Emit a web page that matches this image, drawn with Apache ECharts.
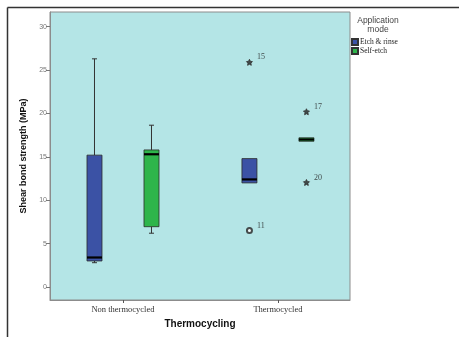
<!DOCTYPE html>
<html><head><meta charset="utf-8">
<script src="https://cdn.jsdelivr.net/npm/echarts@6/dist/echarts.min.js"></script>
<style>html,body{margin:0;padding:0;background:#fff}#c{width:459px;height:337px}</style>
</head><body><div id="c"></div>
<script>
const categories = ['Non thermocycled', 'Thermocycled'];
const groupNames = ['Etch & rinse', 'Self-etch'];
// [lower whisker, Q1, median, Q3, upper whisker] per category
const etchRinseBox = [[2.8, 3.0, 3.4, 15.2, 26.3], [12.0, 12.0, 12.4, 14.8, 14.8]];
const selfEtchBox = [[6.2, 6.95, 15.3, 15.8, 18.65], [16.8, 16.8, 17.0, 17.2, 17.2]];
// [category index, value, case label, kind]
const etchRinseOutliers = [[1, 25.9, '15', 'extreme'], [1, 6.5, '11', 'outlier']];
const selfEtchOutliers = [[1, 20.2, '17', 'extreme'], [1, 12.05, '20', 'extreme']];
const yTicks = [0, 5, 10, 15, 20, 25, 30];

const colors = ['#3b52a5', '#2eb54b'];
const offsets = [-28.5, 28.5];
const boxW = 15, capW = 5;
const starPath = 'path://M0,-10 L2.9,-4 9.5,-3.1 4.7,1.5 5.9,8.1 0,5 -5.9,8.1 -4.7,1.5 -9.5,-3.1 -2.9,-4 Z';

function boxSeries(name, boxes, gi) {
  return {
    type: 'custom', name: name,
    itemStyle: { color: colors[gi], borderColor: '#333', borderWidth: 0.6 },
    encode: { x: 0, y: [1, 2, 3, 4, 5] },
    data: boxes.map((b, i) => [i].concat(b)),
    renderItem: function (params, api) {
      const xi = api.value(0);
      const cx = api.coord([xi, 0])[0] + offsets[gi];
      const y = k => api.coord([xi, api.value(k)])[1];
      const lo = y(1), q1 = y(2), md = y(3), q3 = y(4), hi = y(5);
      const ln = { stroke: '#333', lineWidth: 1 };
      const ch = [];
      if (hi < q3 - 0.5) {
        ch.push({ type: 'line', shape: { x1: cx, y1: hi, x2: cx, y2: q3 }, style: ln });
        ch.push({ type: 'line', shape: { x1: cx - capW / 2, y1: hi, x2: cx + capW / 2, y2: hi }, style: ln });
      }
      if (lo > q1 + 0.5) {
        ch.push({ type: 'line', shape: { x1: cx, y1: q1, x2: cx, y2: lo }, style: ln });
        ch.push({ type: 'line', shape: { x1: cx - capW / 2, y1: lo, x2: cx + capW / 2, y2: lo }, style: ln });
      }
      ch.push({ type: 'rect', shape: { x: cx - boxW / 2, y: q3, width: boxW, height: q1 - q3 },
        style: { fill: colors[gi], stroke: '#2a2a2a', lineWidth: 0.8 } });
      ch.push({ type: 'line', shape: { x1: cx - boxW / 2, y1: md, x2: cx + boxW / 2, y2: md },
        style: { stroke: '#000', lineWidth: 2.2 } });
      return { type: 'group', children: ch };
    }
  };
}

function outlierSeries(pts, gi) {
  return {
    type: 'scatter', name: 'out' + gi,
    symbolOffset: [offsets[gi], 0],
    data: pts.map(p => ({
      value: [p[0], p[1]], name: p[2],
      symbol: p[3] === 'extreme' ? starPath : 'emptyCircle',
      symbolSize: p[3] === 'extreme' ? 6 : 5
    })),
    itemStyle: { color: '#222', borderColor: '#333', borderWidth: 1 },
    label: { show: true, formatter: '{b}', position: 'right', offset: [-1, -5],
      fontSize: 8, fontFamily: 'Liberation Serif', color: '#222' },
    emphasis: { disabled: true }, silent: true
  };
}

const chart = echarts.init(document.getElementById('c'), null, { renderer: 'canvas' });
chart.setOption({
  animation: false,
  grid: { left: 50, top: 12, right: 109, bottom: 37, show: true,
    backgroundColor: '#b4e5e6', borderColor: '#8c8c8c', borderWidth: 1 },
  xAxis: {
    type: 'value', min: -0.471, max: 1.465,
    name: 'Thermocycling', nameLocation: 'middle', nameGap: 19,
    nameTextStyle: { fontSize: 10, fontWeight: 'bold', color: '#111', fontFamily: 'Liberation Sans' },
    axisLine: { show: true, onZero: false, lineStyle: { color: '#8c8c8c' } },
    axisTick: { show: true, length: 3, customValues: [0, 1], lineStyle: { color: '#555' } },
    axisLabel: { customValues: [0, 1], formatter: v => categories[Math.round(v)],
      fontSize: 8.5, fontFamily: 'Liberation Serif', color: '#333', margin: 5 },
    splitLine: { show: false }
  },
  yAxis: {
    type: 'value', min: -1.5, max: 31.7,
    name: 'Shear bond strength (MPa)', nameLocation: 'middle', nameGap: 22,
    nameTextStyle: { fontSize: 9, fontWeight: 'bold', color: '#111', fontFamily: 'Liberation Sans' },
    axisLine: { show: true, onZero: false, lineStyle: { color: '#8c8c8c' } },
    axisTick: { show: true, length: 4, customValues: yTicks, lineStyle: { color: '#777' } },
    axisLabel: { customValues: yTicks, fontSize: 7, color: '#777', margin: 3, fontFamily: 'Liberation Sans' },
    splitLine: { show: false }
  },
  legend: {
    data: groupNames, orient: 'vertical', left: 351, top: 38, icon: 'rect',
    itemWidth: 6, itemHeight: 6, itemGap: 1, padding: 0,
    textStyle: { fontSize: 7.5, fontFamily: 'Liberation Serif', color: '#222', padding: [0, 0, 0, -3], lineHeight: 8 },
    selectedMode: false
  },
  graphic: [
    { type: 'line', shape: { x1: 7.5, y1: 7.5, x2: 459, y2: 7.5 }, style: { stroke: '#333', lineWidth: 1.5 } },
    { type: 'line', shape: { x1: 7.5, y1: 7.5, x2: 7.5, y2: 337 }, style: { stroke: '#333', lineWidth: 1.5 } },
    { type: 'text', x: 378, y: 16, style: { text: 'Application\nmode', align: 'center', fontSize: 8.5,
      lineHeight: 9, fill: '#444', fontFamily: 'Liberation Sans' } }
  ],
  series: [
    boxSeries(groupNames[0], etchRinseBox, 0),
    boxSeries(groupNames[1], selfEtchBox, 1),
    outlierSeries(etchRinseOutliers, 0),
    outlierSeries(selfEtchOutliers, 1)
  ]
});
</script></body></html>
